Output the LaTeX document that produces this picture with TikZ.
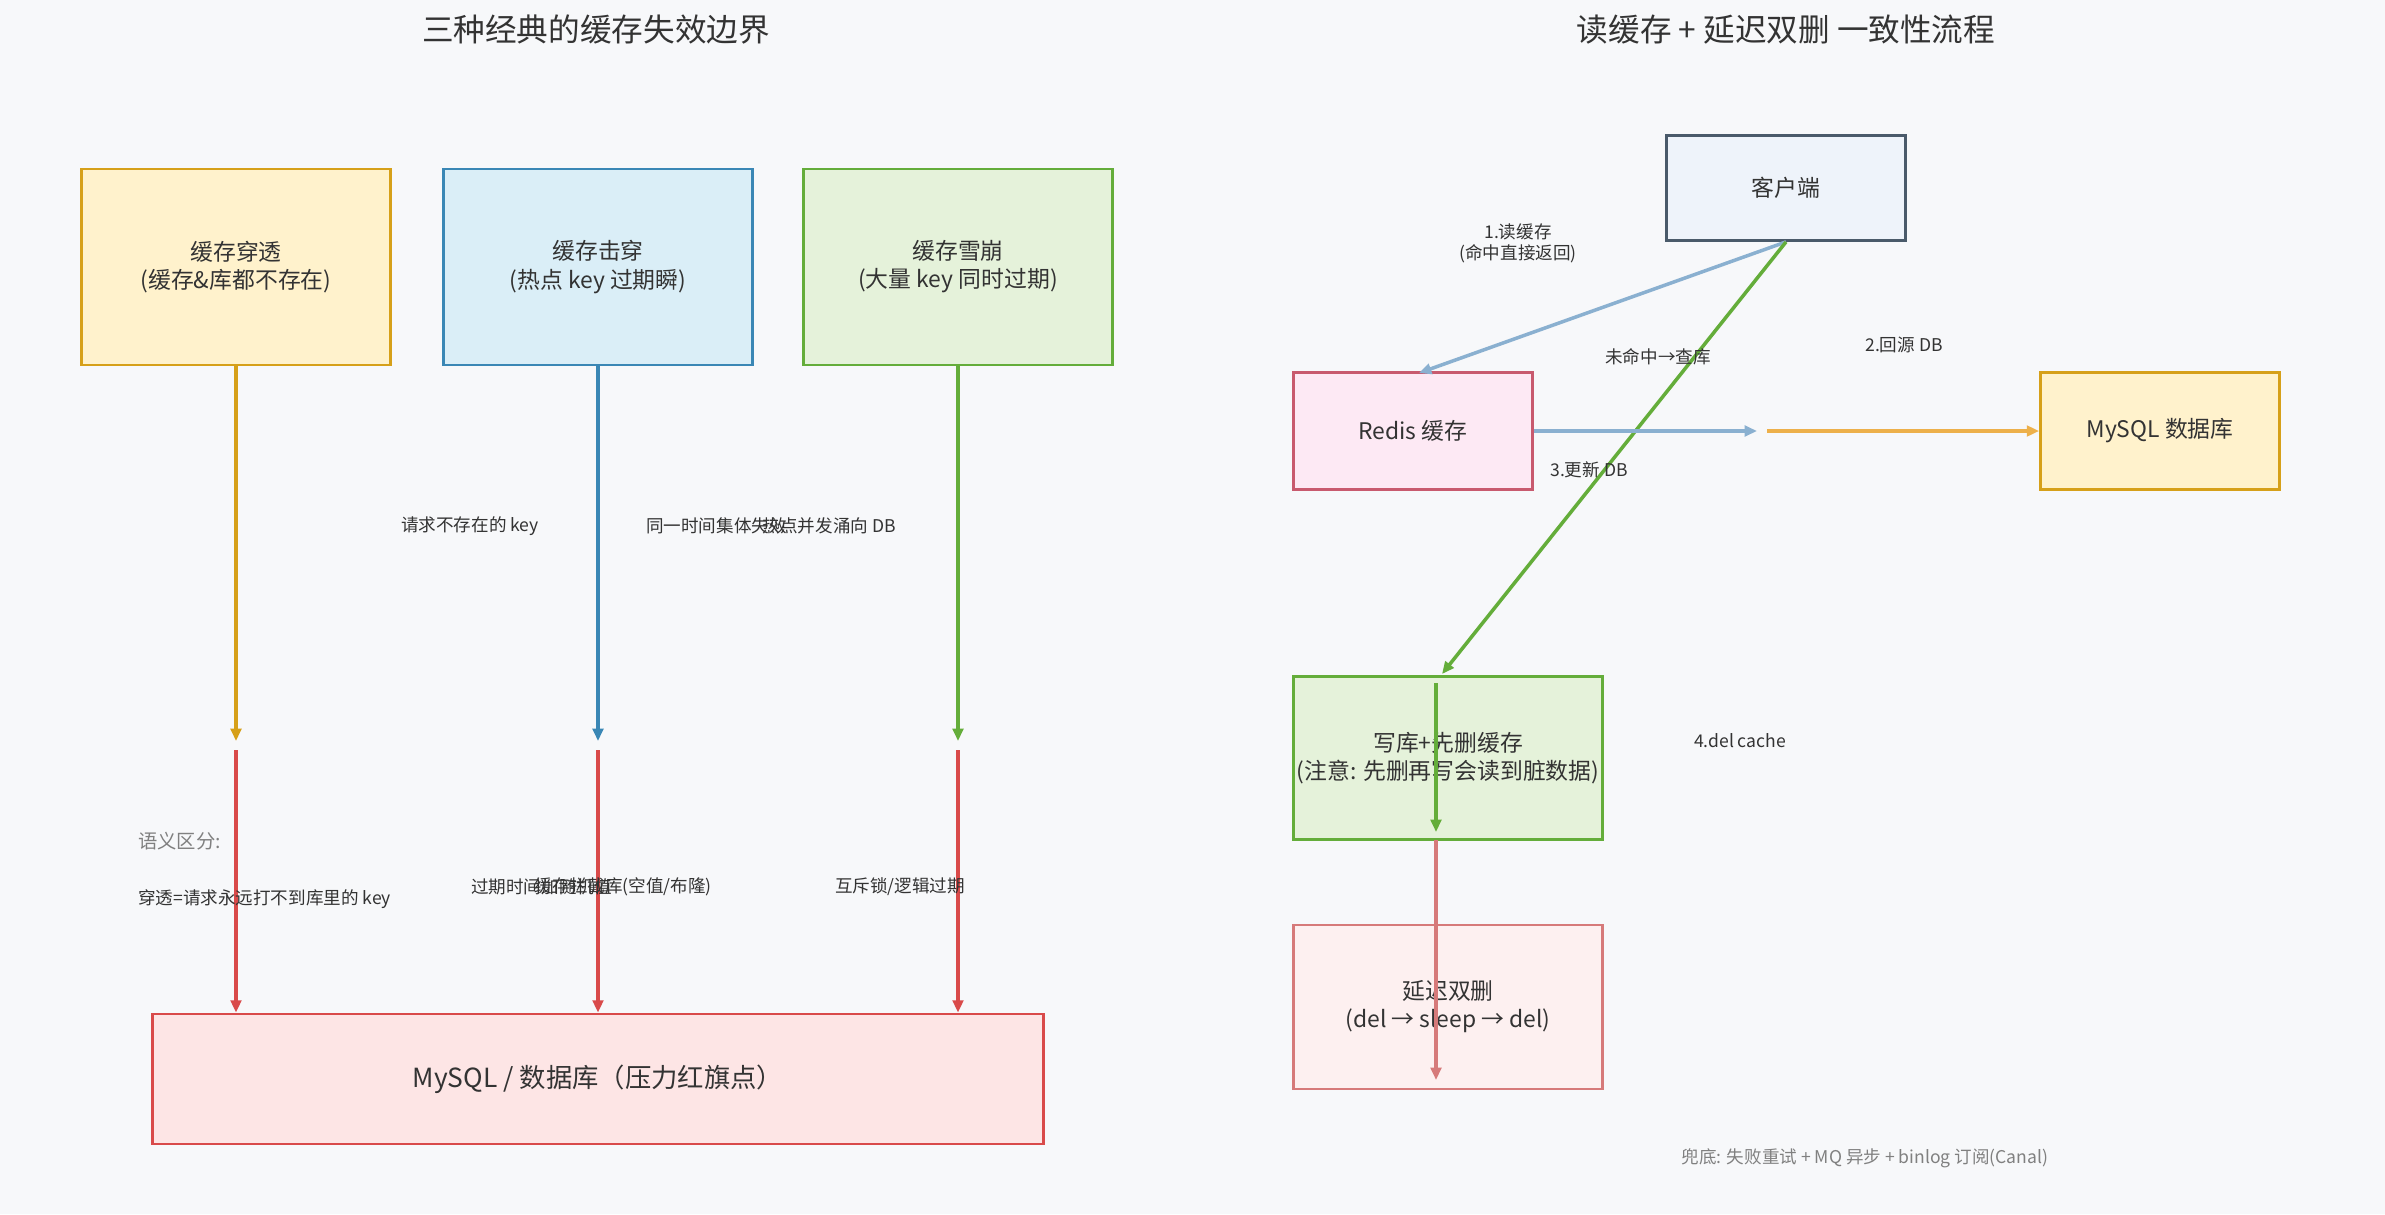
\documentclass[tikz,border=0pt]{standalone}
\usepackage{fontspec}
\setmainfont{Noto Sans CJK SC}
\usetikzlibrary{arrows.meta}
\definecolor{bg}{HTML}{F7F8FA}
\definecolor{yf}{HTML}{FFF2CC}\definecolor{ys}{HTML}{D6A019}
\definecolor{bf}{HTML}{DAEEF7}\definecolor{bs}{HTML}{3A87B5}
\definecolor{gf}{HTML}{E5F2DA}\definecolor{gs}{HTML}{64AD3A}
\definecolor{rf}{HTML}{FDE5E5}\definecolor{rs}{HTML}{D94A4A}
\definecolor{cf}{HTML}{EEF3FA}\definecolor{cs}{HTML}{4A5A6A}
\definecolor{pf}{HTML}{FDE9F4}\definecolor{ps}{HTML}{C85A6E}
\definecolor{df}{HTML}{FDF0F0}\definecolor{ds}{HTML}{D67A7A}
\definecolor{lb}{HTML}{8AB0D0}\definecolor{org}{HTML}{EDB04A}
\definecolor{txt}{HTML}{333333}
\begin{document}
\begin{tikzpicture}[x=0.02cm,y=-0.02cm,
  box/.style={draw,line width=1.6pt,align=center,inner sep=0,font=\fontsize{13}{16}\selectfont,text=txt},
  lbl/.style={font=\fontsize{10}{12}\selectfont,text=txt,align=center},
  arr/.style={line width=2pt,-{Triangle[length=7pt,width=6pt]}}]
\fill[bg] (0,0) rectangle (2385,1214);
\node[font=\fontsize{18}{22}\selectfont,text=txt] (t1) at (596,30) {三种经典的缓存失效边界};
\node[font=\fontsize{18}{22}\selectfont,text=txt] (t2) at (1786,30) {读缓存 + 延迟双删 一致性流程};
% left
\node[box,draw=ys,fill=yf,minimum width=309\pgflinewidth*0+6.18cm,minimum height=3.92cm] (b1) at (236,267) {缓存穿透\\(缓存\&库都不存在)};
\node[box,draw=bs,fill=bf,minimum width=6.18cm,minimum height=3.92cm] (b2) at (598,267) {缓存击穿\\(热点 key 过期瞬)};
\node[box,draw=gs,fill=gf,minimum width=6.18cm,minimum height=3.92cm] (b3) at (958,267) {缓存雪崩\\(大量 key 同时过期)};
\node[box,draw=rs,fill=rf,minimum width=17.82cm,minimum height=2.6cm,font=\fontsize{15}{18}\selectfont] (db) at (598,1079) {MySQL / 数据库（压力红旗点）};
\coordinate (m1a) at (236,741); \coordinate (m1b) at (236,750);
\coordinate (m2a) at (598,741); \coordinate (m2b) at (598,750);
\coordinate (m3a) at (958,741); \coordinate (m3b) at (958,750);
\draw[arr,ys] (b1.south) -- (m1a);
\draw[arr,bs] (b2.south) -- (m2a);
\draw[arr,gs] (b3.south) -- (m3a);
\draw[arr,rs] (m1b) -- (db.north-|m1b);
\draw[arr,rs] (m2b) -- (db.north-|m2b);
\draw[arr,rs] (m3b) -- (db.north-|m3b);
\node[lbl] (l1) at (470,526) {请求不存在的 key};
\node[lbl,anchor=west] (l2) at (640,526) {同一时间集体失效};
\node[lbl,anchor=east] (l3) at (902,526) {热点并发涌向 DB};
\node[lbl,anchor=west,text=gray,font=\fontsize{11}{13}\selectfont] (l4) at (132,841) {语义区分:};
\node[lbl,anchor=west] (l5) at (132,899) {穿透=请求永远打不到库里的 key};
\node[lbl,anchor=west] (l6) at (465,887) {过期时间加随机值};
\node[lbl,anchor=east] (l7) at (718,887) {缓存拦截库(空值/布隆)};
\node[lbl] (l8) at (900,887) {互斥锁/逻辑过期};
% right
\node[box,draw=cs,fill=cf,minimum width=4.78cm,minimum height=2.1cm] (cl) at (1786,188) {客户端};
\node[box,draw=ps,fill=pf,minimum width=4.78cm,minimum height=2.34cm] (rd) at (1413,431) {Redis 缓存};
\node[box,draw=ys,fill=yf,minimum width=4.78cm,minimum height=2.34cm] (my) at (2160,431) {MySQL 数据库};
\node[box,draw=gs,fill=gf,minimum width=6.18cm,minimum height=3.26cm] (wr) at (1448,758) {写库+先删缓存\\(注意: 先删再写会读到脏数据)};
\node[box,draw=ds,fill=df,minimum width=6.18cm,minimum height=3.28cm] (dl) at (1448,1007) {延迟双删\\(del → sleep → del)};
\coordinate (c1) at (1757,431); \coordinate (c2) at (1767,431);
\coordinate (g1) at (1436,683); \coordinate (g2) at (1436,832);
\coordinate (r1) at (1436,840); \coordinate (r2) at (1436,1080);
\coordinate (rt) at (1419,373); \coordinate (wt) at (1442,674);
\draw[arr,lb] (cl.south) -- (rt);
\draw[arr,gs] (cl.south) -- (wt);
\draw[arr,lb] (rd.east) -- (c1);
\draw[arr,org] (c2) -- (my.west);
\draw[arr,gs] (g1) -- (g2);
\draw[arr,ds] (r1) -- (r2);
\node[lbl] (k1) at (1518,243) {1.读缓存\\(命中直接返回)};
\node[lbl] (k2) at (1658,357) {未命中→查库};
\node[lbl] (k3) at (1904,345) {2.回源 DB};
\node[lbl] (k4) at (1589,470) {3.更新 DB};
\node[lbl] (k5) at (1740,741) {4.del cache};
\node[lbl,text=gray] (k6) at (1865,1158) {兜底: 失败重试 + MQ 异步 + binlog 订阅(Canal)};
\end{tikzpicture}
\end{document}
